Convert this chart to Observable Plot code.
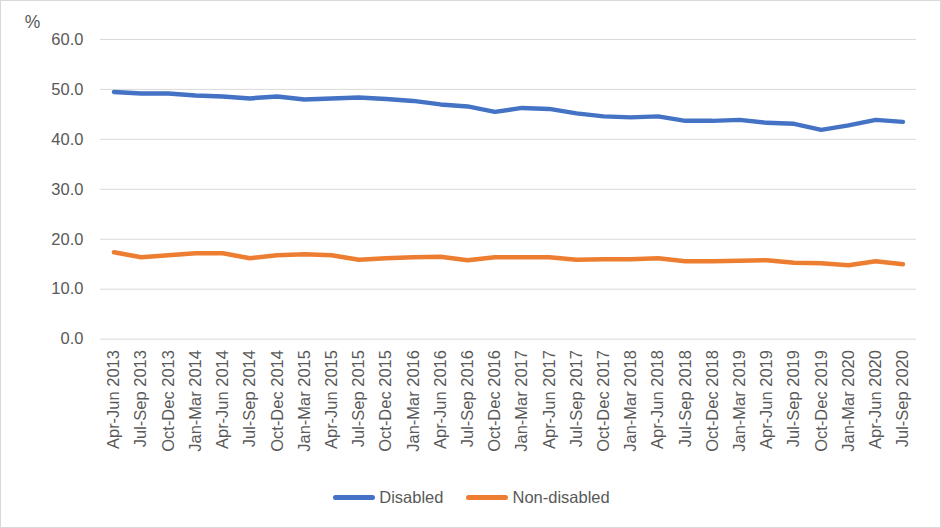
<!DOCTYPE html>
<html>
<head>
<meta charset="utf-8">
<script src="https://cdn.jsdelivr.net/npm/d3@7"></script>
<script src="https://cdn.jsdelivr.net/npm/@observablehq/plot@0.6"></script>
<style>
  html, body { margin: 0; padding: 0; background: #fff; }
  #frame { position: relative; width: 941px; height: 528px; box-sizing: border-box; border: 1px solid #d9d9d9; overflow: hidden; font-family: "Liberation Sans", Arial, sans-serif; }
  #chart { position: absolute; left: -1px; top: -1px; }
  #legend { position: absolute; left: 0; width: 941px; top: 487px; display: flex; justify-content: center; gap: 23px; font-size: 16.5px; color: #595959; }
  .item { display: flex; align-items: center; gap: 4px; padding-left: 0; }
  .sw { width: 42px; height: 5px; border-radius: 3px; display: inline-block; }
</style>
</head>
<body>
<div id="frame">
  <div id="chart"></div>
  <div id="legend"></div>
</div>
<script>
const quarters = [
  "Apr-Jun 2013","Jul-Sep 2013","Oct-Dec 2013","Jan-Mar 2014","Apr-Jun 2014","Jul-Sep 2014",
  "Oct-Dec 2014","Jan-Mar 2015","Apr-Jun 2015","Jul-Sep 2015","Oct-Dec 2015","Jan-Mar 2016",
  "Apr-Jun 2016","Jul-Sep 2016","Oct-Dec 2016","Jan-Mar 2017","Apr-Jun 2017","Jul-Sep 2017",
  "Oct-Dec 2017","Jan-Mar 2018","Apr-Jun 2018","Jul-Sep 2018","Oct-Dec 2018","Jan-Mar 2019",
  "Apr-Jun 2019","Jul-Sep 2019","Oct-Dec 2019","Jan-Mar 2020","Apr-Jun 2020","Jul-Sep 2020"
];
const disabled = [
  49.5, 49.2, 49.2, 48.8, 48.6, 48.2, 48.6, 48.0, 48.2, 48.4, 48.1, 47.7,
  47.0, 46.6, 45.5, 46.3, 46.1, 45.2, 44.6, 44.4, 44.6, 43.7, 43.7, 43.9,
  43.3, 43.1, 41.9, 42.8, 43.9, 43.5
];
const nonDisabled = [
  17.4, 16.4, 16.8, 17.2, 17.2, 16.2, 16.8, 17.0, 16.8, 15.9, 16.2, 16.4,
  16.5, 15.8, 16.4, 16.4, 16.4, 15.9, 16.0, 16.0, 16.2, 15.6, 15.6, 15.7,
  15.8, 15.3, 15.2, 14.8, 15.6, 15.0
];
const seriesNames = ["Disabled", "Non-disabled"];
const seriesColors = ["#4472C4", "#ED7D31"];
const yTicks = [0, 10, 20, 30, 40, 50, 60];

const rows = [];
quarters.forEach((q, i) => {
  rows.push({quarter: q, series: seriesNames[0], value: disabled[i]});
  rows.push({quarter: q, series: seriesNames[1], value: nonDisabled[i]});
});

const plot = Plot.plot({
  width: 941,
  height: 470,
  marginLeft: 100,
  marginRight: 24,
  marginTop: 39,
  marginBottom: 131,
  style: {fontFamily: "'Liberation Sans', Arial, sans-serif", fontSize: "16.5px", color: "#595959", background: "transparent"},
  x: {type: "point", domain: quarters, padding: 0.5, round: false, label: null},
  y: {domain: [0, 60], label: null},
  color: {domain: seriesNames, range: seriesColors},
  marks: [
    Plot.gridY(yTicks, {stroke: "#d9d9d9", strokeOpacity: 1, strokeWidth: 1}),
    Plot.axisY(yTicks, {tickSize: 0, tickPadding: 17, tickFormat: d3.format(".1f"), label: null, fill: "#595959"}),
    Plot.axisX({tickSize: 0, tickPadding: 11, tickRotate: -90, label: null, fill: "#595959"}),
    Plot.line(rows, {x: "quarter", y: "value", z: "series", stroke: "series", strokeWidth: 4.5, strokeLinecap: "round", strokeLinejoin: "round"}),
    Plot.text(["%"], {frameAnchor: "top-left", dx: -68, dy: -24, text: d => d, fill: "#595959", fontSize: 17.5, textAnchor: "middle"})
  ]
});
document.getElementById("chart").appendChild(plot);

const legend = document.getElementById("legend");
seriesNames.forEach((name, i) => {
  const item = document.createElement("div");
  item.className = "item";
  const sw = document.createElement("span");
  sw.className = "sw";
  sw.style.background = seriesColors[i];
  const t = document.createElement("span");
  t.textContent = name;
  item.appendChild(sw);
  item.appendChild(t);
  legend.appendChild(item);
});
</script>
</body>
</html>
